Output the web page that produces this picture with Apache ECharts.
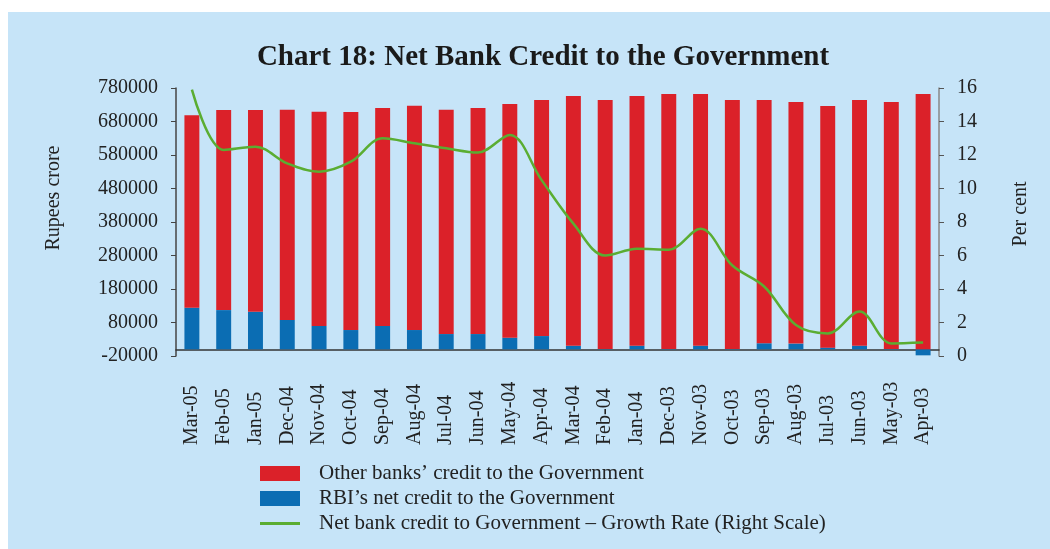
<!DOCTYPE html>
<html>
<head>
<meta charset="utf-8">
<script src="https://cdn.jsdelivr.net/npm/echarts@6/dist/echarts.min.js"></script>
<style>
html,body{margin:0;padding:0;background:#ffffff;}
#chart{width:1050px;height:549px;}
</style>
</head>
<body>
<div id="chart"></div>
<script>
const categories = ['Mar-05','Feb-05','Jan-05','Dec-04','Nov-04','Oct-04','Sep-04','Aug-04','Jul-04','Jun-04','May-04','Apr-04',
  'Mar-04','Feb-04','Jan-04','Dec-03','Nov-03','Oct-03','Sep-03','Aug-03','Jul-03','Jun-03','May-03','Apr-03'];
const rbiCredit = [124000,117000,112000,87500,69500,57500,69500,57500,45500,45500,34500,39500,
  10500,1000,10500,1000,10500,1000,18000,17000,5000,10500,1000,-18000];
const otherBanksCredit = [575000,597000,602000,627500,639500,651000,651000,669500,669500,675000,698000,705000,
  745500,743000,745500,761000,751500,743000,726000,721000,721500,733500,737000,762000];
const growthRate = [15.9,12.3,12.5,11.5,11.0,11.6,13.0,12.7,12.4,12.15,13.2,10.5,
  7.9,6.0,6.4,6.35,7.6,5.4,4.15,1.85,1.35,2.65,0.75,0.8];
const leftTicks = [-20000,80000,180000,280000,380000,480000,580000,680000,780000];
const rightTicks = [0,2,4,6,8,10,12,14,16];

const chart = echarts.init(document.getElementById('chart'), null, {renderer:'canvas'});
const axisFont = {fontFamily:'Liberation Serif', fontSize:20, color:'#222'};
const names = ['Other banks\u2019 credit to the Government','RBI\u2019s net credit to the Government','Net bank credit to Government \u2013 Growth Rate (Right Scale)'];
chart.setOption({
  animation:false,
  textStyle:{fontFamily:'Liberation Serif'},
  graphic:[{type:'rect', z:-100, silent:true, shape:{x:8,y:12,width:1042,height:537}, style:{fill:'#c6e4f8'}}],
  title:{
    text:'Chart 18: Net Bank Credit to the Government',
    left:538, top:38, textAlign:'center',
    textStyle:{fontFamily:'Liberation Serif', fontWeight:'bold', fontSize:29, color:'#1a1a1a'}
  },
  legend:{
    orient:'vertical', left:255, top:458, itemWidth:40, itemHeight:15, itemGap:4, height:88,
    data:[{name:names[0], icon:'rect'},{name:names[1], icon:'rect'},{name:names[2], icon:'path://M0,0h40v3h-40z'}],
    textStyle:{fontFamily:'Liberation Serif', fontSize:21, lineHeight:21, color:'#222', padding:[0,0,0,14]}
  },
  grid:{left:176, top:88, width:763, height:268, containLabel:false},
  xAxis:{
    type:'category', data:categories,
    axisLine:{onZero:true, lineStyle:{color:'#333', width:1.5}},
    axisTick:{length:4, lineStyle:{color:'#555'}},
    axisLabel:Object.assign({rotate:90, align:'left', verticalAlign:'middle', margin:89, interval:0}, axisFont)
  },
  yAxis:[{
    type:'value', min:leftTicks[0], max:leftTicks[leftTicks.length-1], interval:leftTicks[1]-leftTicks[0],
    name:'Rupees crore', nameLocation:'middle', nameRotate:90, nameGap:112,
    nameTextStyle:{fontFamily:'Liberation Serif', fontSize:20, color:'#222', padding:[0,0,0,48]},
    axisLine:{show:true, lineStyle:{color:'#444', width:1.5}},
    axisTick:{show:true, length:5, lineStyle:{color:'#444'}},
    splitLine:{show:false},
    axisLabel:Object.assign({margin:18, formatter:function(v){return String(v);}}, axisFont)
  },{
    type:'value', min:rightTicks[0], max:rightTicks[rightTicks.length-1], interval:rightTicks[1]-rightTicks[0], position:'right',
    name:'Per cent', nameLocation:'middle', nameRotate:90, nameGap:72,
    nameTextStyle:{fontFamily:'Liberation Serif', fontSize:20, color:'#222', padding:[0,0,0,16]},
    axisLine:{show:true, lineStyle:{color:'#888', width:1.5}},
    axisTick:{show:true, length:5, lineStyle:{color:'#555'}},
    splitLine:{show:false},
    axisLabel:Object.assign({margin:18}, axisFont)
  }],
  series:[{
    name:names[1], type:'bar', stack:'total', data:rbiCredit,
    barWidth:'47%', itemStyle:{color:'#0b6db3'}
  },{
    name:names[0], type:'bar', stack:'total', data:otherBanksCredit,
    barWidth:'47%', itemStyle:{color:'#db2129'}
  },{
    name:names[2], type:'line', yAxisIndex:1,
    data:growthRate, smooth:0.35, symbol:'none', lineStyle:{color:'#5aad32', width:2.5}, itemStyle:{color:'#5aad32'}
  }]
});
</script>
</body>
</html>
